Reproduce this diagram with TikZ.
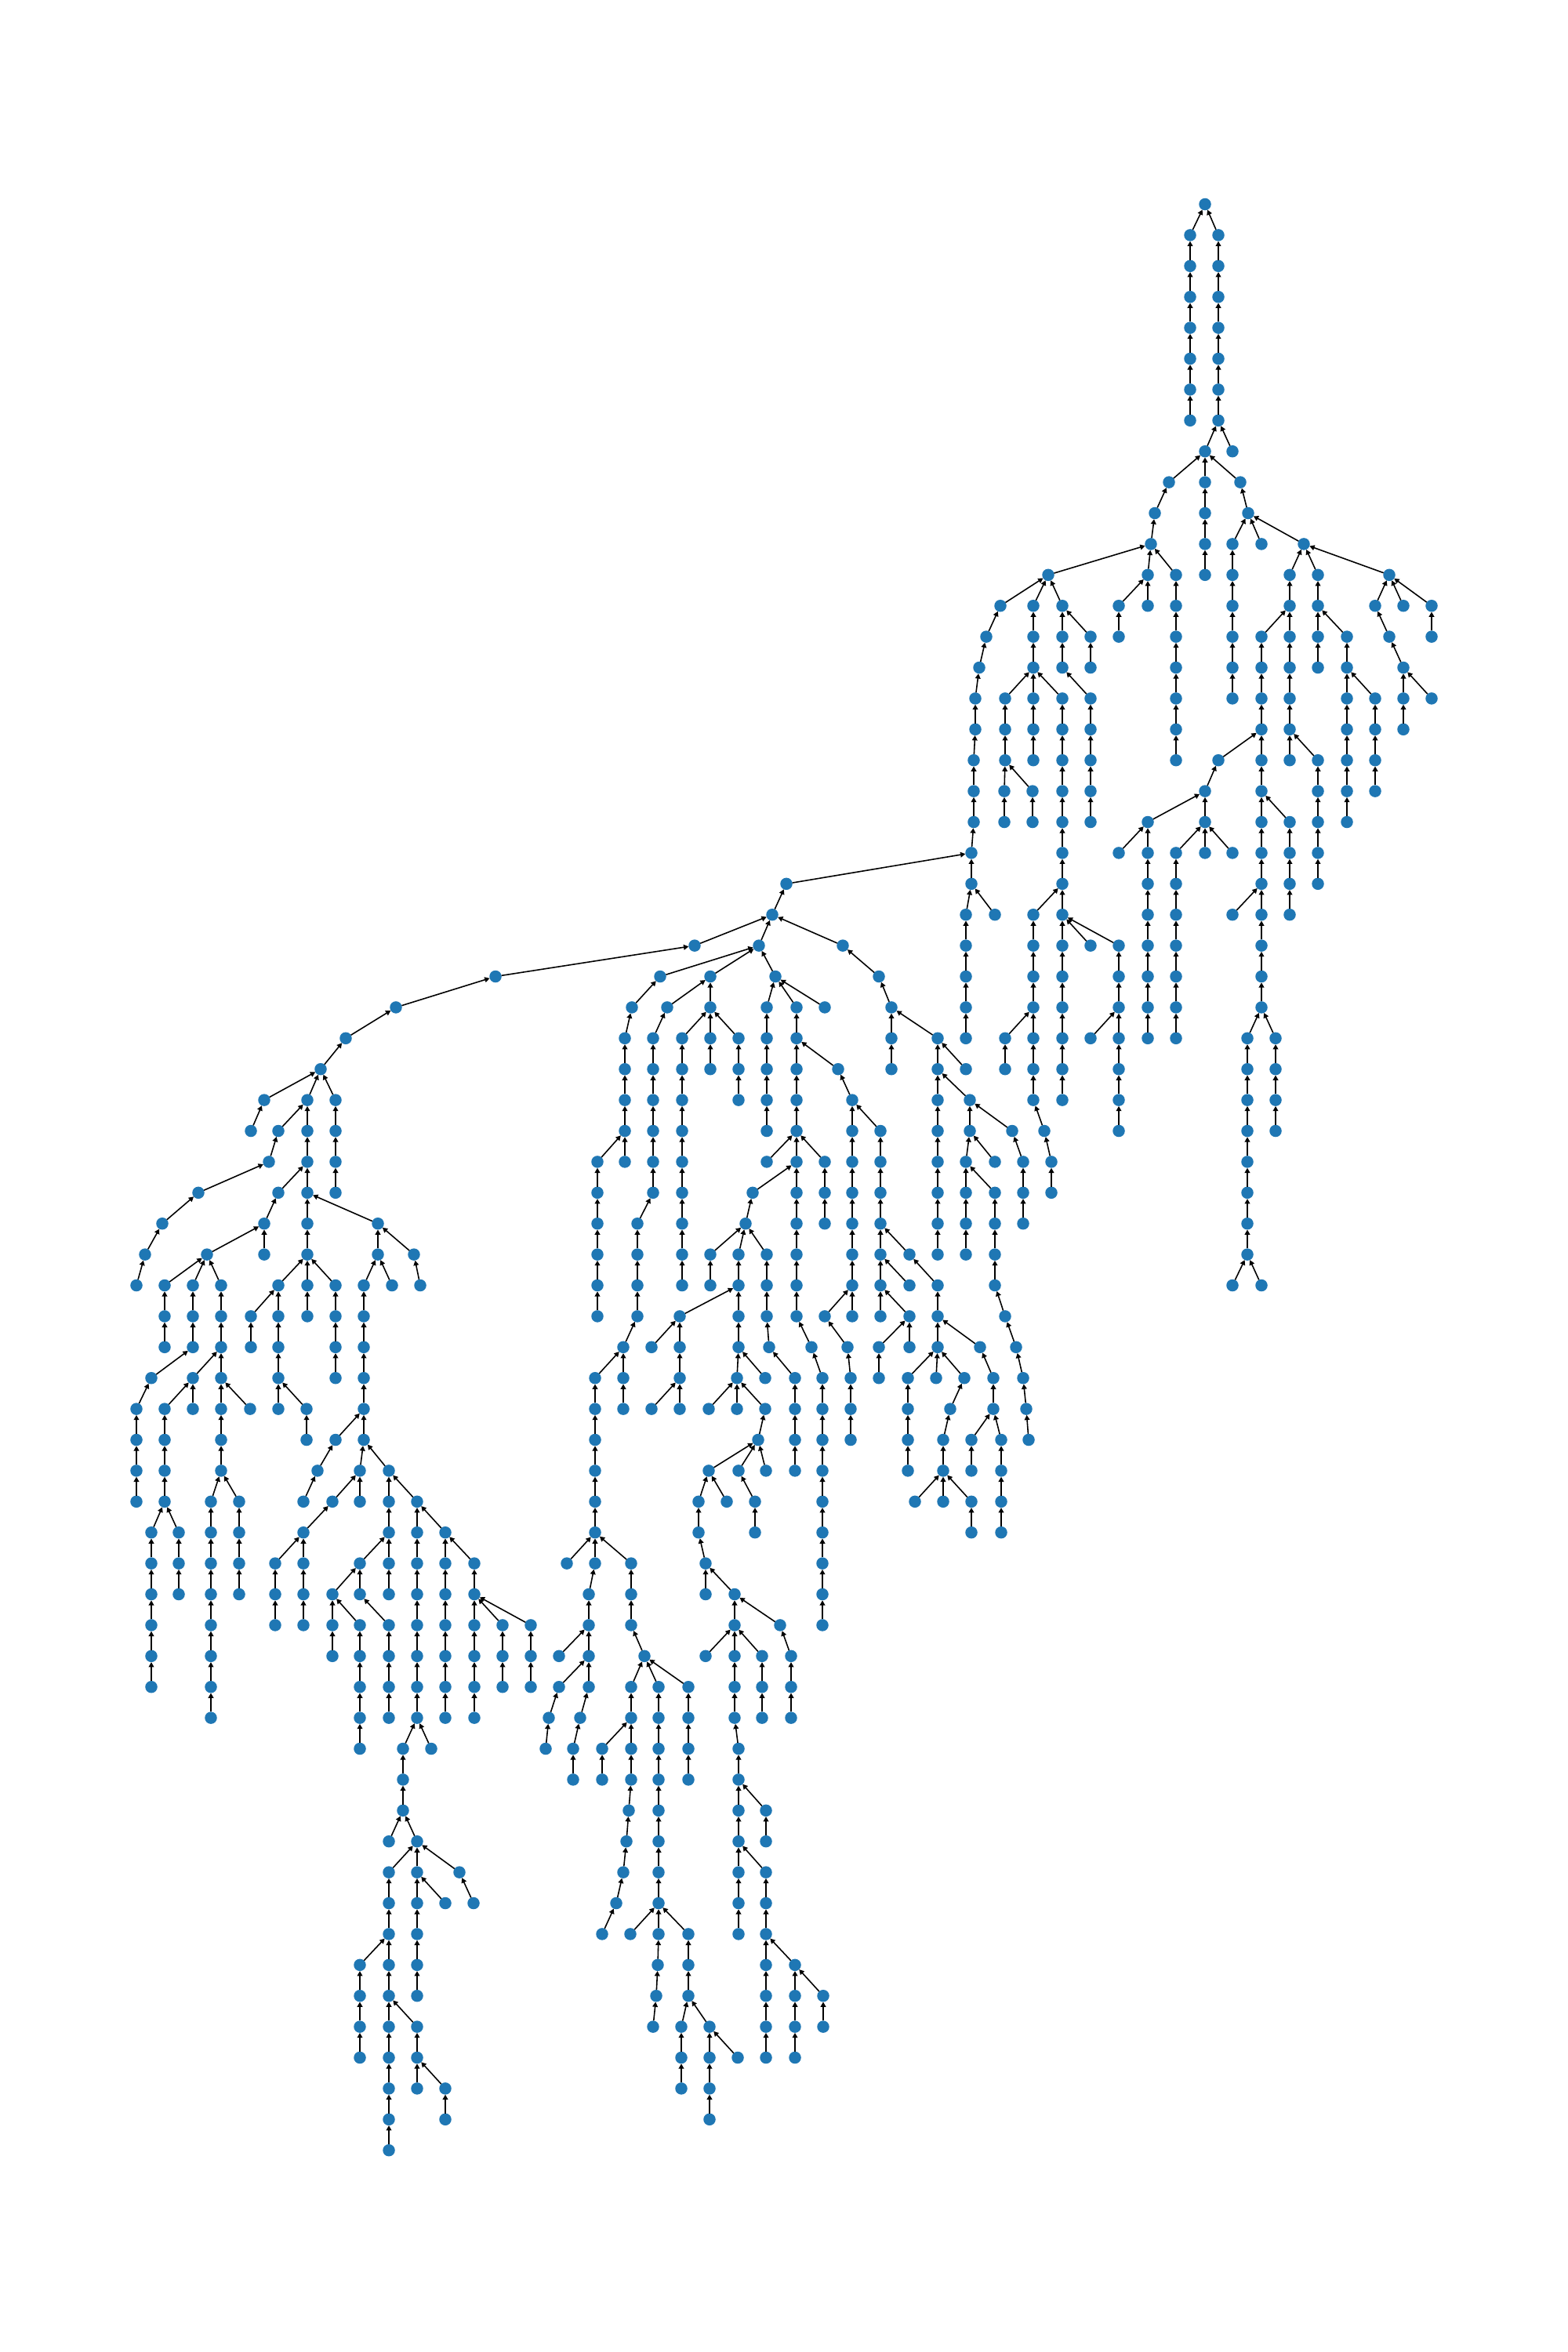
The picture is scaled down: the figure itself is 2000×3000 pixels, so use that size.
\documentclass[tikz,border=0pt]{standalone}
\usetikzlibrary{arrows.meta}
\definecolor{nodeblue}{HTML}{1F77B4}
\begin{document}
\begin{tikzpicture}[x=0.01cm,y=-0.01cm,
  dot/.style={circle,fill=nodeblue,draw=none,inner sep=0pt,outer sep=0pt,minimum size=0.155cm},
  edge/.style={draw=black,line width=0.45pt,-{Triangle[length=1.8pt,width=1.9pt]}}]
\useasboundingbox (0,0) rectangle (2000,3000);
\node[dot] (n1537q0) at (1537,260.5) {};
\foreach \a/\b/\c in {
1518/1/1537,1554/1/1537,1518/2/1518,1554/2/1554,1518/3/1518,1554/3/1554,1518/4/1518,1554/4/1554,1518/5/1518,1554/5/1554,1518/6/1518,1554/6/1554,1518/7/1518,1554/7/1554,
1537/8/1554,1572/8/1554,
1491/9/1537,1537/9/1537,1582/9/1537,
1473/10/1491,1537/10/1537,1592/10/1582,
1468/11/1473,1537/11/1537,1572/11/1592,1609/11/1592,1663/11/1592,
1337/12/1468,1464/12/1468,1500/12/1468,1537/12/1537,1572/12/1572,1645/12/1663,1681/12/1663,1772/12/1663,
1276/13/1337,1318/13/1337,1355/13/1337,1427/13/1464,1464/13/1464,1500/13/1500,1572/13/1572,1645/13/1645,1681/13/1681,1754/13/1772,1790/13/1772,1826/13/1772,
1258/14/1276,1318/14/1318,1355/14/1355,1391/14/1355,1427/14/1427,1500/14/1500,1572/14/1572,1609/14/1645,1645/14/1645,1681/14/1681,1718/14/1681,1772/14/1754,1826/14/1826,
1249/15/1258,1318/15/1318,1355/15/1355,1391/15/1391,1500/15/1500,1572/15/1572,1609/15/1609,1645/15/1645,1681/15/1681,1718/15/1718,1790/15/1772,
1244/16/1249,1282/16/1318,1318/16/1318,1355/16/1318,1391/16/1355,1500/16/1500,1572/16/1572,1609/16/1609,1645/16/1645,1718/16/1718,1754/16/1718,1790/16/1790,1826/16/1790,
1244/17/1244,1282/17/1282,1318/17/1318,1355/17/1355,1391/17/1391,1500/17/1500,1609/17/1609,1645/17/1645,1718/17/1718,1754/17/1754,1790/17/1790,
1242/18/1244,1282/18/1282,1318/18/1318,1355/18/1355,1391/18/1391,1500/18/1500,1554/18/1609,1609/18/1609,1645/18/1645,1681/18/1645,1718/18/1718,1754/18/1754,
1242/19/1242,1281/19/1282,1317/19/1282,1355/19/1355,1391/19/1391,1537/19/1554,1609/19/1609,1681/19/1681,1718/19/1718,1754/19/1754,
1242/20/1242,1281/20/1281,1317/20/1317,1355/20/1355,1391/20/1391,1464/20/1537,1537/20/1537,1609/20/1609,1645/20/1609,1681/20/1681,1718/20/1718,
1239/21/1242,1355/21/1355,1427/21/1464,1464/21/1464,1500/21/1537,1537/21/1537,1572/21/1537,1609/21/1609,1645/21/1645,1681/21/1681,
1003/22/1239,1239/22/1239,1355/22/1355,1464/22/1464,1500/22/1500,1609/22/1609,1645/22/1645,1681/22/1681,
985/23/1003,1232/23/1239,1269/23/1239,1318/23/1355,1355/23/1355,1464/23/1464,1500/23/1500,1572/23/1609,1609/23/1609,1645/23/1645,
886/24/985,968/24/985,1075/24/985,1232/24/1232,1318/24/1318,1355/24/1355,1391/24/1355,1427/24/1355,1464/24/1464,1500/24/1500,1609/24/1609,
632/25/886,842/25/968,906/25/968,989/25/968,1121/25/1075,1232/25/1232,1318/25/1318,1355/25/1355,1427/25/1427,1464/25/1464,1500/25/1500,1609/25/1609,
505/26/632,806/26/842,851/26/906,906/26/906,978/26/989,1016/26/989,1052/26/989,1137/26/1121,1232/26/1232,1318/26/1318,1355/26/1355,1427/26/1427,1464/26/1464,1500/26/1500,1609/26/1609,
441/27/505,797/27/806,833/27/851,870/27/906,906/27/906,942/27/906,978/27/978,1016/27/1016,1137/27/1137,1196/27/1137,1232/27/1232,1282/27/1318,1318/27/1318,1355/27/1355,1391/27/1427,1427/27/1427,1464/27/1464,1500/27/1500,1591/27/1609,1627/27/1609,
409/28/441,797/28/797,833/28/833,870/28/870,906/28/906,942/28/942,978/28/978,1016/28/1016,1069/28/1016,1137/28/1137,1196/28/1196,1232/28/1196,1282/28/1282,1318/28/1318,1355/28/1355,1427/28/1427,1591/28/1591,1627/28/1627,
337/29/409,392/29/409,428/29/409,797/29/797,833/29/833,870/29/870,942/29/942,978/29/978,1016/29/1016,1087/29/1069,1196/29/1196,1237/29/1196,1318/29/1318,1355/29/1355,1427/29/1427,1591/29/1591,1627/29/1627,
320/30/337,355/30/392,392/30/392,428/30/428,797/30/797,833/30/833,870/30/870,978/30/978,1016/30/1016,1087/30/1087,1123/30/1087,1196/30/1196,1237/30/1237,1291/30/1237,1332/30/1318,1427/30/1427,1591/30/1591,1627/30/1627,
343/31/355,392/31/392,428/31/428,762/31/797,797/31/797,833/31/833,870/31/870,978/31/1016,1016/31/1016,1052/31/1016,1087/31/1087,1123/31/1123,1196/31/1196,1232/31/1237,1269/31/1237,1305/31/1291,1341/31/1332,1591/31/1591,
253/32/343,355/32/392,392/32/392,428/32/428,762/32/762,833/32/833,870/32/870,960/32/1016,1016/32/1016,1052/32/1052,1087/32/1087,1123/32/1123,1196/32/1196,1232/32/1232,1269/32/1232,1305/32/1305,1341/32/1341,1591/32/1591,
207/33/253,337/33/355,392/33/392,482/33/392,762/33/762,813/33/833,870/33/870,951/33/960,1016/33/1016,1052/33/1052,1087/33/1087,1123/33/1123,1196/33/1196,1232/33/1232,1269/33/1269,1305/33/1305,1591/33/1591,
185/34/207,264/34/337,337/34/337,392/34/392,482/34/482,528/34/482,762/34/762,813/34/813,870/34/870,906/34/951,942/34/951,978/34/951,1016/34/1016,1087/34/1087,1123/34/1123,1160/34/1123,1196/34/1196,1232/34/1232,1269/34/1269,1591/34/1591,
174/35/185,210/35/264,246/35/264,282/35/264,355/35/392,392/35/392,428/35/392,464/35/482,500/35/482,536/35/528,762/35/762,813/35/813,870/35/870,906/35/906,942/35/942,978/35/978,1016/35/1016,1087/35/1087,1123/35/1123,1160/35/1123,1196/35/1160,1269/35/1269,1572/35/1591,1609/35/1591,
210/36/210,246/36/246,282/36/282,320/36/355,355/36/355,392/36/392,428/36/428,464/36/464,762/36/762,813/36/813,867/36/942,942/36/942,978/36/978,1016/36/1016,1052/36/1087,1087/36/1087,1123/36/1123,1160/36/1123,1196/36/1196,1282/36/1269,
210/37/210,246/37/246,282/37/282,320/37/320,355/37/355,428/37/428,464/37/464,795/37/813,831/37/867,867/37/867,942/37/942,981/37/978,1035/37/1016,1081/37/1052,1121/37/1160,1160/37/1160,1196/37/1196,1250/37/1196,1296/37/1282,
193/38/246,246/38/282,282/38/282,355/38/355,428/38/428,464/38/464,759/38/795,795/38/795,867/38/867,940/38/942,976/38/942,1014/38/981,1049/38/1035,1085/38/1081,1121/38/1121,1158/38/1196,1194/38/1196,1230/38/1196,1267/38/1250,1305/38/1296,
174/39/193,210/39/246,246/39/246,282/39/282,319/39/282,355/39/355,391/39/355,464/39/464,759/39/759,795/39/795,831/39/867,867/39/867,904/39/940,940/39/940,976/39/940,1014/39/1014,1049/39/1049,1085/39/1085,1158/39/1158,1212/39/1230,1267/39/1267,1309/39/1305,
174/40/174,210/40/210,282/40/282,391/40/391,428/40/464,464/40/464,759/40/759,967/40/976,1014/40/1014,1049/40/1049,1085/40/1085,1158/40/1158,1203/40/1212,1239/40/1267,1277/40/1267,1312/40/1309,
174/41/174,210/41/210,282/41/282,405/41/428,459/41/464,496/41/464,759/41/759,904/41/967,942/41/967,977/41/967,1014/41/1014,1049/41/1049,1158/41/1158,1203/41/1203,1239/41/1239,1277/41/1277,
174/42/174,210/42/210,269/42/282,305/42/282,387/42/405,424/42/459,459/42/459,496/42/496,532/42/496,759/42/759,891/42/904,927/42/904,963/42/942,1049/42/1049,1167/42/1203,1203/42/1203,1239/42/1203,1277/42/1277,
193/43/210,228/43/210,269/43/269,305/43/305,387/43/424,496/43/496,532/43/532,568/43/532,759/43/759,891/43/891,963/43/963,1049/43/1049,1239/43/1239,1277/43/1277,
193/44/193,228/44/228,269/44/269,305/44/305,351/44/387,387/44/387,459/44/496,496/44/496,532/44/532,568/44/568,605/44/568,723/44/759,759/44/759,805/44/759,900/44/891,1049/44/1049,
193/45/193,228/45/228,269/45/269,305/45/305,351/45/351,387/45/387,424/45/459,459/45/459,496/45/496,532/45/532,568/45/568,605/45/605,751/45/759,805/45/805,900/45/900,937/45/900,1049/45/1049,
193/46/193,269/46/269,351/46/351,387/46/387,424/46/424,459/46/424,496/46/459,532/46/532,568/46/568,605/46/605,641/46/605,677/46/605,751/46/751,805/46/805,937/46/937,995/46/937,1049/46/1049,
193/47/193,269/47/269,424/47/424,459/47/459,496/47/496,532/47/532,568/47/568,605/47/605,641/47/641,677/47/677,713/47/751,751/47/751,822/47/805,900/47/937,937/47/937,972/47/937,1009/47/995,
193/48/193,269/48/269,459/48/459,496/48/496,532/48/532,568/48/568,605/48/605,641/48/641,677/48/677,713/48/751,751/48/751,805/48/822,840/48/822,878/48/822,937/48/937,972/48/972,1009/48/1009,
269/49/269,459/49/459,496/49/496,532/49/532,568/49/568,605/49/605,700/49/713,740/49/751,805/49/805,840/49/840,878/49/878,937/49/937,972/49/972,1009/49/1009,
459/50/459,514/50/532,550/50/532,696/50/700,731/50/740,768/50/805,805/50/805,840/50/840,878/50/878,942/50/937,
514/51/514,731/51/731,768/51/768,805/51/805,840/51/840,878/51/878,942/51/942,
514/52/514,802/52/805,840/52/840,942/52/942,977/52/942,
496/53/514,532/53/514,799/53/802,840/53/840,942/53/942,977/53/977,
496/54/532,532/54/532,586/54/532,795/54/799,840/54/840,942/54/942,977/54/942,
496/55/496,532/55/532,568/55/532,604/55/586,786/55/795,840/55/840,942/55/942,977/55/977,
496/56/496,532/56/532,768/56/786,804/56/840,840/56/840,878/56/840,942/56/942,977/56/977,
459/57/496,496/57/496,532/57/532,839/57/840,878/57/878,977/57/977,1014/57/977,
459/58/459,496/58/496,532/58/532,837/58/839,878/58/878,977/58/977,1014/58/1014,1050/58/1014,
459/59/459,496/59/496,532/59/496,833/59/837,869/59/878,905/59/878,977/59/977,1014/59/1014,1050/59/1050,
459/60/459,496/60/496,532/60/532,869/60/869,905/60/905,941/60/905,977/60/977,1014/60/1014,
496/61/496,532/61/532,568/61/532,869/61/869,905/61/905,
496/62/496,568/62/568,905/62/905,
496/63/496}
{
  \pgfmathsetmacro\yy{260.5+39.4*\b}
  \pgfmathtruncatemacro\bm{\b-1}
  \node[dot] (n\a q\b) at (\a,\yy) {};
  \draw[edge] (n\a q\b) -- (n\c q\bm);
}
\end{tikzpicture}
\end{document}
